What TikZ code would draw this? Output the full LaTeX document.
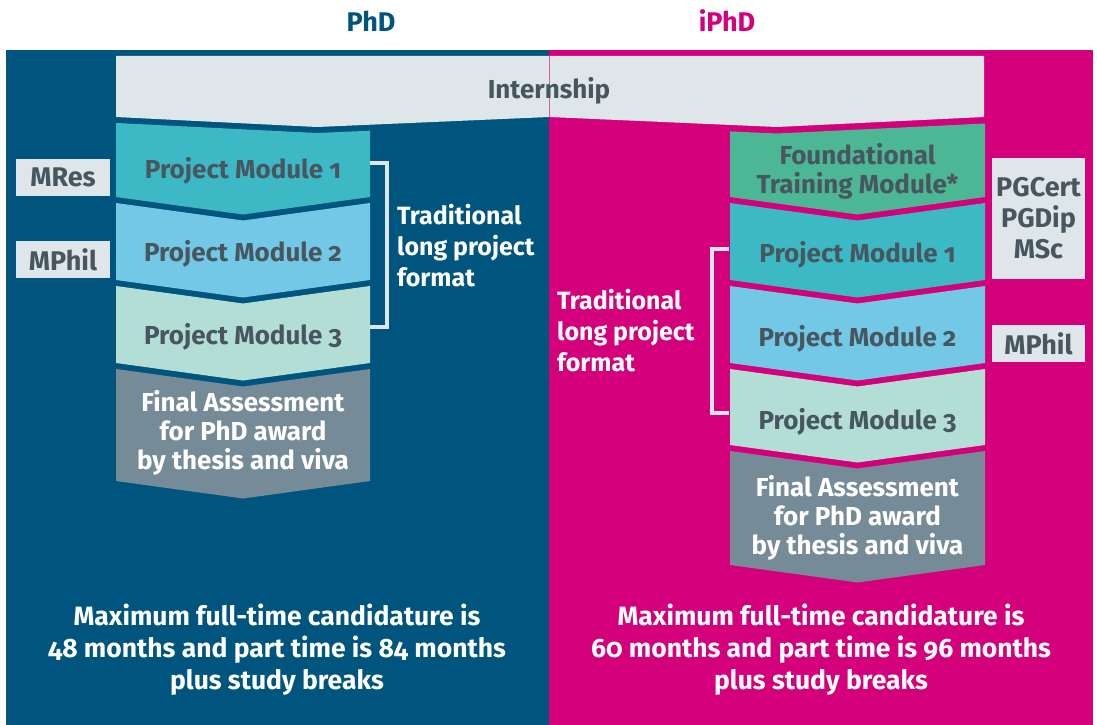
\documentclass[tikz,border=0pt]{standalone}
\usepackage{fontspec}
\setmainfont{Fira Sans}[Numbers=OldStyle]
\definecolor{phdblue}{HTML}{00557E}
\definecolor{iphdpink}{HTML}{D4007B}
\definecolor{paleband}{HTML}{DFE6EA}
\definecolor{modone}{HTML}{3CB9C5}
\definecolor{modtwo}{HTML}{72C8E5}
\definecolor{modthree}{HTML}{B2DED5}
\definecolor{finalgrey}{HTML}{768B98}
\definecolor{foundgreen}{HTML}{4BB794}
\definecolor{txtdark}{HTML}{47565F}
\tikzset{
  basefont/.style={font=\bfseries\fontsize{26}{29}\selectfont, align=center, inner sep=0pt},
  modtext/.style={basefont, text=txtdark, yshift=-2pt},
  whitetext/.style={basefont, text=white},
  sidetext/.style={font=\bfseries\fontsize{25}{31}\selectfont, align=left, inner sep=0pt, text=white, anchor=west},
  bottomtext/.style={font=\bfseries\fontsize{26.5}{32}\selectfont, align=center, inner sep=0pt, text=white},
  tagbox/.style={font=\bfseries\fontsize{27}{31}\selectfont, align=center, inner sep=0pt,
    fill=paleband, text=txtdark, minimum width=94pt, minimum height=37pt},
  bracketline/.style={draw=paleband, line width=4.5pt},
  titletext/.style={font=\bfseries\fontsize{27}{30}\selectfont, inner sep=0pt}
}
\newcommand{\chevron}[5]{%
  % #1 colour, #2 left x, #3 right x, #4 top y, #5 bottom y (tip depth 17.5)
  \fill[#1] (#2,#4) -- ({(#2+#3)/2},#4+17.5) -- (#3,#4) -- (#3,#5)
    -- ({(#2+#3)/2},#5+17.5) -- (#2,#5) -- cycle;}
\begin{document}
\begin{tikzpicture}[x=1pt,y=-1pt]
\useasboundingbox (0,0) rectangle (1097,725);
\fill[white] (0,0) rectangle (1097,725);

% the two programme panels
\fill[phdblue] (6,50) rectangle (549,725);
\fill[iphdpink] (549,50) rectangle (1093,725);

% headings
\node[titletext, text=phdblue] (phd) at (371,21) {PhD};
\node[titletext, text=iphdpink] (iphd) at (727,21) {iPhD};

% internship band shared by both programmes
\fill[paleband] (116,56) -- (984,56) -- (984,117) -- (777,127) -- (549,117)
  -- (317,127) -- (116,117) -- cycle;
\draw[iphdpink, line width=0.4pt, opacity=0.6] (549,56) -- (549,117);
\node[modtext] (intern) at (549,89) {Internship};

% PhD column
\fill[modone] (116,123) -- (317,133) -- (370,130.7) -- (370,197) -- (243,214.5)
  -- (116,197) -- cycle;
\chevron{modtwo}{116}{370}{203}{280}
\chevron{modthree}{116}{370}{286}{363}
\chevron{finalgrey}{116}{370}{369}{481}
\node[modtext] (pm1a) at (243,169) {Project Module 1};
\node[modtext] (pm2a) at (243,252) {Project Module 2};
\node[modtext] (pm3a) at (243,335) {Project Module 3};
\node[whitetext] (fina) at (243,433) {Final Assessment\\for PhD award\\by thesis and viva};

\node[tagbox] (mres) at (63,177.5) {MRes};
\node[tagbox] (mphila) at (63,259.5) {MPhil};

\coordinate (bra) at (370,163);
\coordinate (brb) at (370,327);
\draw[bracketline] (bra) -- ++(17,0) |- (brb);
\node[sidetext] (trada) at (397,246) {Traditional\\long project\\format};

% iPhD column
\fill[foundgreen] (730,131.4) -- (777,133.5) -- (985,123.5) -- (985,197)
  -- (857.5,214.5) -- (730,197) -- cycle;
\chevron{modone}{730}{985}{203}{280}
\chevron{modtwo}{730}{985}{286}{363}
\chevron{modthree}{730}{985}{369}{445}
\chevron{finalgrey}{730}{985}{451}{565}
\node[modtext] (found) at (857.5,169.5) {Foundational\\Training Module*};
\node[modtext] (pm1b) at (857.5,253) {Project Module 1};
\node[modtext] (pm2b) at (857.5,337) {Project Module 2};
\node[modtext] (pm3b) at (857.5,420) {Project Module 3};
\node[whitetext] (finb) at (857.5,518) {Final Assessment\\for PhD award\\by thesis and viva};

\node[tagbox, minimum width=93pt, minimum height=121pt] (pgcert) at (1038.5,218.5) {PGCert\\PGDip\\MSc};
\node[tagbox, minimum width=93pt] (mphilb) at (1038.5,343.5) {MPhil};

\coordinate (brc) at (729,249);
\coordinate (brd) at (729,413);
\draw[bracketline] (brc) -- ++(-17,0) |- (brd);
\node[sidetext] (tradb) at (557,331) {Traditional\\long project\\format};

% candidature limits
\node[bottomtext] (limita) at (277,650) {Maximum full-time candidature is\\48 months and part time is 84 months\\plus study breaks};
\node[bottomtext] (limitb) at (821,650) {Maximum full-time candidature is\\60 months and part time is 96 months\\plus study breaks};
\end{tikzpicture}
\end{document}
